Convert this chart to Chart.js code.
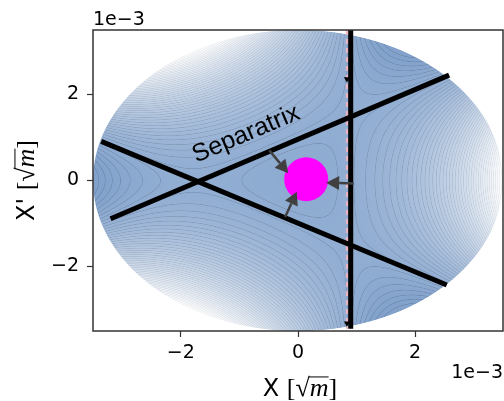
<!DOCTYPE html>
<html>
<head>
<meta charset="utf-8">
<script src="https://cdn.jsdelivr.net/npm/chart.js@4.4.0/dist/chart.umd.min.js"></script>
<style>
  html, body { margin: 0; padding: 0; background: #fff; overflow: hidden; }
  #wrap { width: 504px; height: 401px; position: relative; }
  #myChart { display: block; }
</style>
</head>
<body>
<div id="wrap"><canvas id="myChart"></canvas></div>
<script>
const ctx = document.getElementById('myChart');

// everything is in units of 1e-3 (the axis offset text)
const axisMin = -3.5;
const axisMax = 3.5;
const xTicks = [-2, 0, 2];
const yTicks = [-2, 0, 2];

// the three separatrix lines, start -> end
const sepAX = [-3.36, 2.54];
const sepAY = [0.91, -2.43];
const sepBX = [-3.20, 2.58];
const sepBY = [-0.89, 2.45];
const sepCX = [0.90, 0.90];
const sepCY = [3.5, -3.45];

// pink dashed line and its small arrow marks
const dashX = [0.835, 0.835];
const dashY = [3.5, -3.45];
const markX = [0.835, 0.835];
const markY = [2.36, -3.32];

// beam (magenta dot)
const beamX = [0.14];
const beamY = [0.03];

// arrows, tail -> tip
const arrowTailX = [-0.49, -0.22, 0.95];
const arrowTailY = [0.70, -0.85, -0.07];
const arrowTipX = [-0.165, -0.02, 0.48];
const arrowTipY = [0.17, -0.26, -0.05];

// text label
const labelText = 'Separatrix';
const labelX = -0.84;
const labelY = 0.93;

// phase space picture: circle radius and the triangle vertex
const phaseRadius = 3.5;
const vertexX = -1.75;
const nLevels = 50;

function pts(xs, ys) {
    return xs.map((v, i) => ({ x: v, y: ys[i] }));
}

function fmtTick(v) {
    return v < 0 ? '\u2212' + Math.abs(v) : String(v);
}

// contour background, painted once into an offscreen canvas
const fieldPlugin = {
    id: 'field',
    beforeDatasetsDraw(chart) {
        const { ctx: c, chartArea: a, scales: { x, y } } = chart;
        const w = Math.round(a.right - a.left);
        const h = Math.round(a.bottom - a.top);
        if (!chart.$field) {
            const off = document.createElement('canvas');
            off.width = w; off.height = h;
            const oc = off.getContext('2d');
            const img = oc.createImageData(w, h);
            const k = -1 / vertexX;
            const ham = (q, p) => (q * q + p * p) / 2 + k / 3 * (q * q * q - 3 * q * p * p);
            let hMin = Infinity, hMax = -Infinity;
            for (let t = 0; t < 720; t++) {
                const an = t / 720 * Math.PI * 2;
                const v = ham(phaseRadius * Math.cos(an), phaseRadius * Math.sin(an));
                hMin = Math.min(hMin, v); hMax = Math.max(hMax, v);
            }
            const dL = (hMax - hMin) / (nLevels - 1);
            const sx = (x.max - x.min) / (x.right - x.left);
            const sy = (y.max - y.min) / (y.bottom - y.top);
            const dark = [130, 162, 204];
            for (let j = 0; j < h; j++) {
                const p = y.getValueForPixel(a.top + j + 0.5);
                for (let i = 0; i < w; i++) {
                    const q = x.getValueForPixel(a.left + i + 0.5);
                    const r = Math.hypot(q, p);
                    const edge = Math.max(0, Math.min(1, (phaseRadius - r) / sx + 0.5));
                    const o = (j * w + i) * 4;
                    if (edge <= 0) { img.data[o + 3] = 0; continue; }
                    const hv = ham(q, p);
                    const t = (hv - hMin) / (hMax - hMin);
                    const g = Math.max(0, Math.min(1, (t - 0.04) / 0.96));
                    const f = (hv - hMin) / dL;
                    const d = Math.abs(f - Math.round(f)) * dL;
                    const gpx = Math.hypot((q + k * (q * q - p * p)) * sx, (p - 2 * k * q * p) * sy);
                    const dpx = d / Math.max(gpx, 1e-6);
                    const li = Math.max(0, 1 - dpx / 0.7) * 0.15 * (1 - 0.6 * g);
                    for (let ch = 0; ch < 3; ch++) {
                        const col = dark[ch] + (255 - dark[ch]) * g;
                        img.data[o + ch] = col * (1 - li);
                    }
                    img.data[o + 3] = 255 * edge;
                }
            }
            oc.putImageData(img, 0, 0);
            chart.$field = off;
        }
        c.save();
        c.drawImage(chart.$field, a.left, a.top);
        c.restore();
    },
    afterDatasetsDraw(chart) {
        const { ctx: c, chartArea: a, scales: { x, y } } = chart;
        // frame
        c.save();
        c.strokeStyle = '#333';
        c.lineWidth = 1.5;
        c.strokeRect(a.left, a.top, a.right - a.left, a.bottom - a.top);
        c.restore();
        // arrows
        c.save();
        c.fillStyle = '#404040';
        c.strokeStyle = '#404040';
        c.lineWidth = 2.5;
        for (let i = 0; i < arrowTailX.length; i++) {
            const x0 = x.getPixelForValue(arrowTailX[i]), y0 = y.getPixelForValue(arrowTailY[i]);
            const x1 = x.getPixelForValue(arrowTipX[i]), y1 = y.getPixelForValue(arrowTipY[i]);
            const len = Math.hypot(x1 - x0, y1 - y0);
            const ux = (x1 - x0) / len, uy = (y1 - y0) / len;
            const hl = 13, hw = 7;
            c.beginPath();
            c.moveTo(x0, y0);
            c.lineTo(x1 - ux * hl, y1 - uy * hl);
            c.stroke();
            c.beginPath();
            c.moveTo(x1, y1);
            c.lineTo(x1 - ux * hl - uy * hw, y1 - uy * hl + ux * hw);
            c.lineTo(x1 - ux * hl + uy * hw, y1 - uy * hl - ux * hw);
            c.closePath();
            c.fill();
        }
        c.restore();
        // separatrix label, parallel to line B
        const bx0 = x.getPixelForValue(sepBX[0]), by0 = y.getPixelForValue(sepBY[0]);
        const bx1 = x.getPixelForValue(sepBX[1]), by1 = y.getPixelForValue(sepBY[1]);
        c.save();
        c.translate(x.getPixelForValue(labelX), y.getPixelForValue(labelY));
        c.rotate(Math.atan2(by1 - by0, bx1 - bx0));
        c.font = '25px "Liberation Sans"';
        c.fillStyle = '#000';
        c.textAlign = 'center';
        c.textBaseline = 'alphabetic';
        c.fillText(labelText, 0, 0);
        c.restore();
    },
    afterDraw(chart) {
        const { ctx: c, chartArea: a } = chart;
        c.save();
        c.fillStyle = '#000';
        c.font = '19px "DejaVu Sans"';
        c.textBaseline = 'alphabetic';
        c.textAlign = 'left';
        c.fillText('1e\u22123', a.left, 25);
        c.textAlign = 'right';
        c.fillText('1e\u22123', a.right, 378);
        c.restore();
        drawUnitLabel(c, 'X', (a.left + a.right) / 2 + 2, 387, 0);
        drawUnitLabel(c, "X'", 25, (a.top + a.bottom) / 2, -Math.PI / 2);
    }
};

// axis title like "X [sqrt(m)]" with a math-style unit
function drawUnitLabel(c, prefix, cx, cy, rot) {
    const size = 24;
    const sans = size + 'px "DejaVu Sans"';
    const serif = (size + 2) + 'px "Liberation Serif"';
    const ital = 'italic ' + (size + 2) + 'px "Liberation Serif"';
    const parts = [[prefix + ' ', sans], ['[', serif], ['\u221A', serif], ['m', ital], [']', serif]];
    c.save();
    c.translate(cx, cy);
    c.rotate(rot);
    let total = 0;
    const widths = parts.map(([t, f]) => { c.font = f; const wd = c.measureText(t).width; total += wd; return wd; });
    let px = -total / 2;
    const base = size * 0.36;
    c.fillStyle = '#000';
    c.textBaseline = 'alphabetic';
    c.textAlign = 'left';
    parts.forEach(([t, f], i) => {
        c.font = f;
        c.fillText(t, px, base);
        if (i === 3) {
            c.fillRect(px - 1, base - size * 0.8, widths[i] + 1, 1);
        }
        px += widths[i];
    });
    c.restore();
}

function buildChart() {
    new Chart(ctx, {
        type: 'scatter',
        data: {
            datasets: [
                {
                    data: pts(beamX, beamY),
                    backgroundColor: '#ff00ff',
                    borderWidth: 0,
                    pointRadius: 22,
                    order: 0,
                },
                {
                    data: pts(markX, markY),
                    backgroundColor: '#000',
                    borderWidth: 0,
                    pointStyle: 'triangle',
                    rotation: 180,
                    pointRadius: 3.5,
                    order: 1,
                },
                {
                    data: pts(sepAX, sepAY),
                    showLine: true,
                    borderColor: '#000',
                    borderWidth: 5,
                    pointRadius: 0,
                    order: 2,
                },
                {
                    data: pts(sepBX, sepBY),
                    showLine: true,
                    borderColor: '#000',
                    borderWidth: 5,
                    pointRadius: 0,
                    order: 2,
                },
                {
                    data: pts(sepCX, sepCY),
                    showLine: true,
                    borderColor: '#000',
                    borderWidth: 5,
                    pointRadius: 0,
                    order: 2,
                },
                {
                    data: pts(dashX, dashY),
                    showLine: true,
                    borderColor: '#f0b4c0',
                    borderWidth: 2,
                    borderDash: [5, 4],
                    pointRadius: 0,
                    order: 3,
                },
            ]
        },
        options: {
            responsive: true,
            maintainAspectRatio: false,
            animation: false,
            layout: { autoPadding: false, padding: { top: 30, right: 1, left: 0, bottom: 0 } },
            plugins: { legend: { display: false }, tooltip: { enabled: false } },
            scales: {
                x: {
                    type: 'linear',
                    min: axisMin,
                    max: axisMax,
                    afterBuildTicks: s => { s.ticks = xTicks.map(v => ({ value: v })); },
                    afterFit: s => { s.height = 70; s.paddingLeft = 0; s.paddingRight = 0; },
                    ticks: {
                        callback: fmtTick,
                        font: { family: 'DejaVu Sans', size: 19 },
                        color: '#000',
                        padding: 5,
                        maxRotation: 0,
                    },
                    grid: { drawOnChartArea: false, drawTicks: true, tickLength: 6, tickColor: '#333', tickWidth: 1.2 },
                    border: { display: false },
                },
                y: {
                    type: 'linear',
                    min: axisMin,
                    max: axisMax,
                    afterBuildTicks: s => { s.ticks = yTicks.map(v => ({ value: v })); },
                    afterFit: s => { s.width = 93; s.paddingTop = 0; s.paddingBottom = 0; },
                    ticks: {
                        callback: fmtTick,
                        font: { family: 'DejaVu Sans', size: 19 },
                        color: '#000',
                        padding: 8,
                    },
                    grid: { drawOnChartArea: false, drawTicks: true, tickLength: 6, tickColor: '#333', tickWidth: 1.2 },
                    border: { display: false },
                },
            },
        },
        plugins: [fieldPlugin],
    });
}

buildChart();
</script>
</body>
</html>
